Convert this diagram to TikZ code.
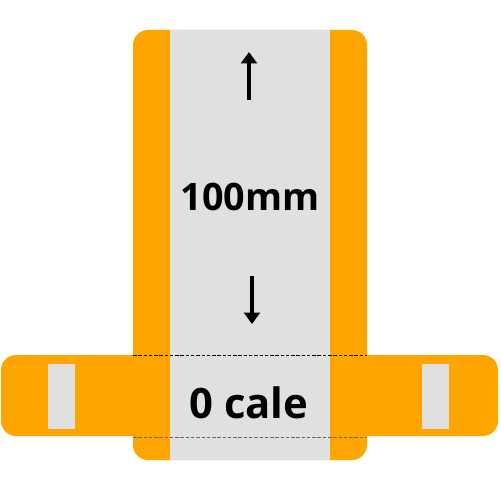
\documentclass[tikz,border=0pt]{standalone}
\usepackage{fontspec}
\setmainfont{Open Sans}
\usetikzlibrary{arrows.meta}
\definecolor{tabfill}{HTML}{FFA500}
\definecolor{stripfill}{HTML}{E0E0E0}

\begin{document}
\begin{tikzpicture}[
  x=0.02cm,
  y=-0.02cm,
  line join=round,
  tab/.style={fill=tabfill,draw=none,rounded corners=0.3cm},
  strip/.style={fill=stripfill,draw=none},
  fold/.style={draw=black,line width=0.55pt,dash pattern=on 2pt off 1pt},
  label/.style={font=\bfseries\fontsize{21.5}{24}\selectfont,inner sep=0pt},
  measure/.style={draw=black,line width=2.3pt,-{Triangle[length=6.5pt,width=9pt]}}
]
  \useasboundingbox (0,0) rectangle (500,500);

  % Orange outline: cross bar first, then the long tab.
  \path[tab] (1,355) rectangle (498,436);
  \path[tab] (133,30) rectangle (367,460);

  % Grey print strip and the two slots.
  \path[strip] (170,30) rectangle (330,460);
  \path[strip] (48,364) rectangle (75,429);
  \path[strip] (422,364) rectangle (449,429);

  % Fold lines where the bar meets the tab.
  \draw[fold] (133,355) -- (367,355);
  \draw[fold,draw=black!60] (133,437) -- (367,437);

  % Labels.
  \node[label] (len) at (250,197) {100mm};
  \node[label,font=\bfseries\fontsize{23.8}{26}\selectfont] (cale) at (249,403) {0 cale};

  % Length arrows.
  \coordinate (upS) at (249,100);
  \coordinate (upE) at (249,52);
  \coordinate (dnS) at (252,276);
  \coordinate (dnE) at (252,324);
  \draw[measure] (upS) -- (upE);
  \draw[measure] (dnS) -- (dnE);
\end{tikzpicture}
\end{document}
